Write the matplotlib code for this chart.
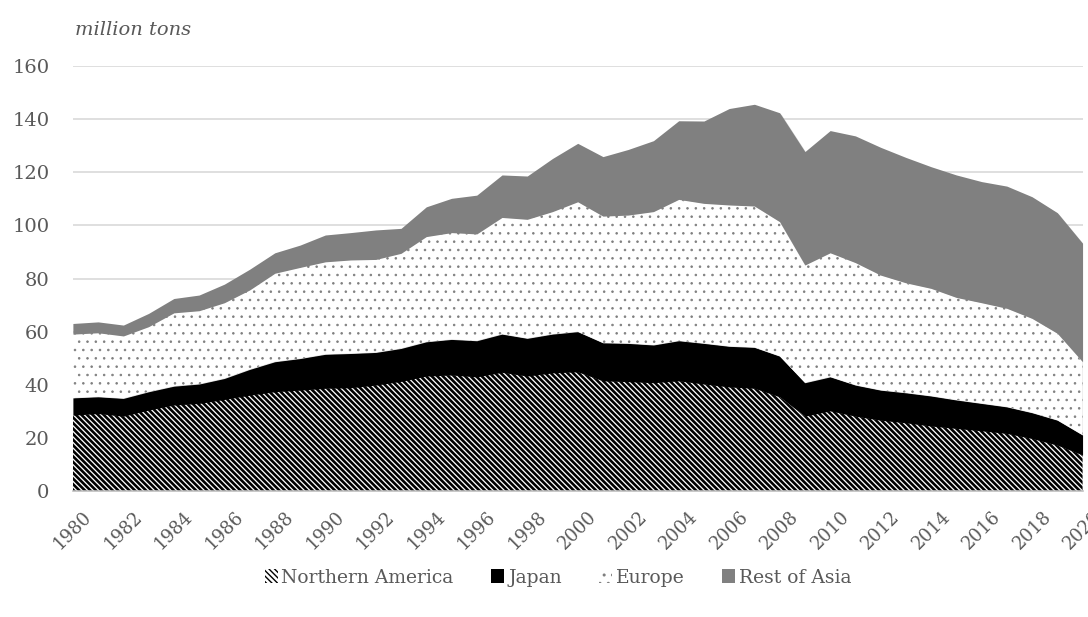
import matplotlib
matplotlib.use("Agg")
import matplotlib.pyplot as plt
import matplotlib.patches as mpatches
import matplotlib.patheffects as pe
import numpy as np

years = list(range(1980, 2021))

northern_america = [28.6, 29.2, 28.2, 30.5, 32.4, 33.0, 34.5, 36.1, 37.4, 38.0,
                    38.7, 38.9, 39.9, 41.3, 43.3, 43.7, 43.0, 44.7, 43.3, 44.5,
                    44.9, 41.5, 41.2, 40.8, 41.5, 40.3, 39.2, 38.7, 35.5, 28.2,
                    30.2, 28.2, 26.7, 25.7, 24.5, 23.6, 22.7, 21.7, 19.8, 17.3,
                    13.6]
japan = [6.5, 6.3, 6.7, 6.9, 7.1, 7.3, 7.9, 9.7, 11.3, 11.9,
         12.8, 12.9, 12.3, 12.4, 12.9, 13.4, 13.6, 14.4, 14.2, 14.6,
         15.1, 14.3, 14.4, 14.2, 15.1, 15.3, 15.3, 15.4, 15.3, 12.6,
         12.8, 11.7, 11.3, 11.3, 11.3, 10.7, 10.3, 10.0, 9.7, 9.4,
         7.5]
europe = [24.0, 24.1, 23.5, 24.5, 27.6, 27.6, 28.5, 29.9, 33.3, 34.3,
          34.8, 35.2, 35.0, 35.8, 39.6, 40.2, 40.2, 43.9, 44.8, 46.1,
          48.9, 47.7, 48.3, 50.2, 53.2, 52.7, 53.2, 53.2, 50.6, 44.3,
          46.7, 46.1, 43.3, 41.4, 40.5, 38.6, 37.9, 37.1, 35.5, 32.7,
          27.6]
rest_of_asia = [4.0, 4.1, 4.1, 5.0, 5.4, 5.9, 7.0, 7.8, 7.7, 8.4,
                10.1, 10.3, 11.1, 9.4, 11.2, 12.9, 14.6, 16.0, 16.3, 20.0,
                22.0, 22.4, 24.7, 26.7, 29.6, 31.0, 36.3, 38.3, 41.0, 42.7,
                46.0, 47.7, 48.1, 47.2, 45.8, 46.1, 45.6, 46.0, 45.8, 45.4,
                44.6]

series_names = ["Northern America", "Japan", "Europe", "Rest of Asia"]
text_color = "#595959"
asia_gray = "#808080"

plt.rcParams["font.family"] = ["DejaVu Serif"]

fig = plt.figure(figsize=(10.88, 6.17), dpi=100)
ax = fig.add_axes([0.067, 0.204, 0.928, 0.689])

x = np.array(years)
layers = np.array([northern_america, japan, europe, rest_of_asia])
tops = np.cumsum(layers, axis=0)
bottoms = np.vstack([np.zeros(len(years)), tops[:-1]])

# soft drop shadow under the whole stack
ax.fill_between(x, 0, tops[-1], color="white", lw=0, zorder=1,
                path_effects=[pe.SimplePatchShadow(offset=(1.5, -1.5),
                                                   shadow_rgbFace="#999999",
                                                   alpha=0.35)])

styles = [
    dict(facecolor="white", edgecolor="black", hatch="\\" * 6, hlw=1.9),
    dict(facecolor="black", edgecolor="black", hatch=None, hlw=1.0),
    dict(facecolor="white", edgecolor="#7f7f7f", hatch="..", hlw=0.6),
    dict(facecolor=asia_gray, edgecolor=asia_gray, hatch=None, hlw=1.0),
]

for lo, hi, st in zip(bottoms, tops, styles):
    with plt.rc_context({"hatch.linewidth": st["hlw"]}):
        ax.fill_between(x, lo, hi, facecolor=st["facecolor"],
                        edgecolor=st["edgecolor"], hatch=st["hatch"],
                        linewidth=0, zorder=2)

ax.set_xlim(1980, 2020)
ax.set_ylim(0, 160)
ax.set_yticks(range(0, 161, 20))
ax.set_xticks(years[::2])
ax.set_xticklabels([str(y) for y in years[::2]], rotation=45, ha="center",
                   va="top")
ax.yaxis.grid(True, color="#d9d9d9", linewidth=1.2, zorder=0)
ax.set_axisbelow(True)
for side in ["top", "right", "left"]:
    ax.spines[side].set_visible(False)
ax.spines["bottom"].set_color("#bfbfbf")
ax.spines["bottom"].set_linewidth(1.2)
ax.spines["bottom"].set_zorder(3)
ax.tick_params(axis="y", length=0, labelsize=14, colors=text_color, pad=17)
ax.tick_params(axis="x", length=0, labelsize=13, colors=text_color, pad=12)

fig.text(0.069, 0.951, "million tons", fontsize=14, style="italic",
         color=text_color, va="center", ha="left")

handles = []
for name, st in zip(series_names, styles):
    with plt.rc_context({"hatch.linewidth": st["hlw"]}):
        handles.append(mpatches.Patch(facecolor=st["facecolor"],
                                      edgecolor=st["edgecolor"],
                                      hatch=st["hatch"], linewidth=0,
                                      label=name))
leg = fig.legend(handles=handles, loc="center", bbox_to_anchor=(0.513, 0.064),
                 ncol=4, frameon=False, fontsize=13.5, handlelength=0.7,
                 handleheight=0.7, handletextpad=0.2, columnspacing=2.0)
for t in leg.get_texts():
    t.set_color(text_color)

fig.savefig("out.png", dpi=100)
